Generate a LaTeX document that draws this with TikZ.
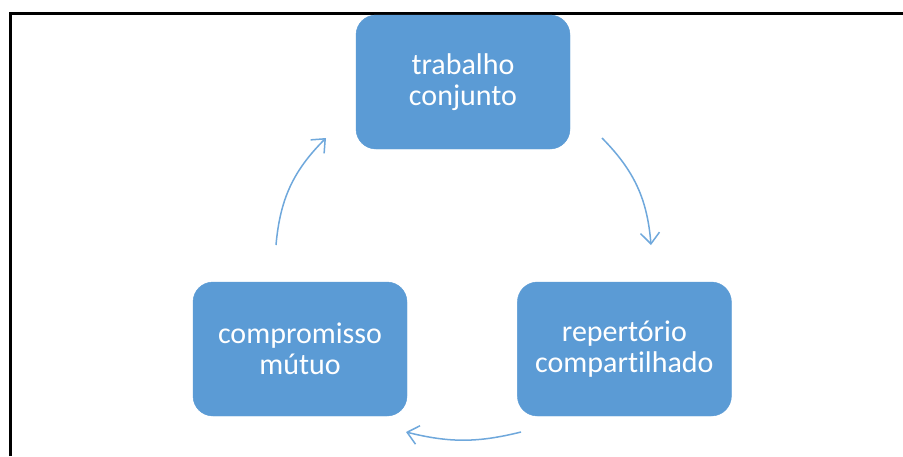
\documentclass[tikz,border=0pt]{standalone}
\usepackage{fontspec}
\setmainfont{Carlito}[Ligatures={NoCommon,NoRare}]
\usepackage{xcolor}
\usetikzlibrary{positioning,arrows.meta}
\definecolor{accent}{HTML}{5B9BD5}
\definecolor{arrowblue}{HTML}{6FA8DC}
\tikzset{
  box/.style={rectangle,draw=accent,fill=accent,rounded corners=20pt,
    align=center,text=white,minimum width=214pt,minimum height=134pt,
    font=\fontsize{30}{31.5}\selectfont},
  fl/.style={-{Straight Barb[length=11pt,width=19pt]},draw=arrowblue,line width=1.5pt},
}
\begin{document}
\begin{tikzpicture}[x=1pt,y=-1pt]
  \useasboundingbox (0,0) rectangle (903,456);
  \fill[white] (0,0) rectangle (903,456);
  % frame
  \draw[line width=3pt] (10.5,456) |- (903,13.5);
  % boxes
  \node[box] (trab) at (463,82) {trabalho\\conjunto};
  \node[box] (comp) at (300,349) {compromisso\\mútuo};
  \node[box,right=110pt of comp] (rep) {repertório\\compart\kern0pt ilhado};
  % arrow ends
  \coordinate (t1) at (602,138); \coordinate (h1) at (651,245);
  \coordinate (t2) at (521,432); \coordinate (h2) at (406,432);
  \coordinate (t3) at (276,245); \coordinate (h3) at (326,138);
  \draw[fl] (t1) to[bend left=20] (h1);
  \draw[fl] (t2) to[bend left=14] (h2);
  \draw[fl] (t3) to[bend left=20] (h3);
\end{tikzpicture}
\end{document}
